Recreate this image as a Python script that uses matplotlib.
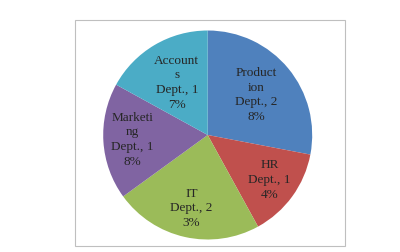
import matplotlib.pyplot as plt
from matplotlib.patches import Rectangle
import numpy as np

depts = ['Production Dept.', 'HR Dept.', 'IT Dept.', 'Marketing Dept.', 'Accounts Dept.']
shares = [28, 14, 23, 18, 17]
# labels as wrapped in the original chart
labels = ['Product\nion\nDept., 2\n8%', 'HR\nDept., 1\n4%', 'IT\nDept., 2\n3%',
          'Marketi\nng\nDept., 1\n8%', 'Account\ns\nDept., 1\n7%']
colors = ['#4F81BD', '#C0504D', '#9BBB59', '#8064A2', '#4BACC6']
label_r = [0.6, 0.73, 0.72, 0.72, 0.58]

fig = plt.figure(figsize=(4, 2.52), dpi=100)
W, H = 400, 252

# chart area border
fig.patches.append(Rectangle((75 / W, 1 - 246 / H), 270 / W, 226 / H,
                             transform=fig.transFigure, fill=False,
                             edgecolor='#BFBFBF', linewidth=0.8))

cx, cy, r = 207.7, 135, 104.5
ax = fig.add_axes([(cx - r) / W, (H - cy - r) / H, 2 * r / W, 2 * r / H])
wedges, _ = ax.pie(shares, colors=colors, startangle=90, counterclock=False,
                   wedgeprops=dict(linewidth=0))
ax.set_xlim(-1, 1)
ax.set_ylim(-1, 1)
ax.set_aspect('auto')
ax.axis('off')

for w, lab, d in zip(wedges, labels, label_r):
    mid = np.deg2rad((w.theta1 + w.theta2) / 2)
    ax.text(d * np.cos(mid), d * np.sin(mid), lab, ha='center', va='center',
            fontsize=9.5, family='Liberation Serif', color='#262626',
            linespacing=1.3)

fig.savefig('out.png', dpi=100)
